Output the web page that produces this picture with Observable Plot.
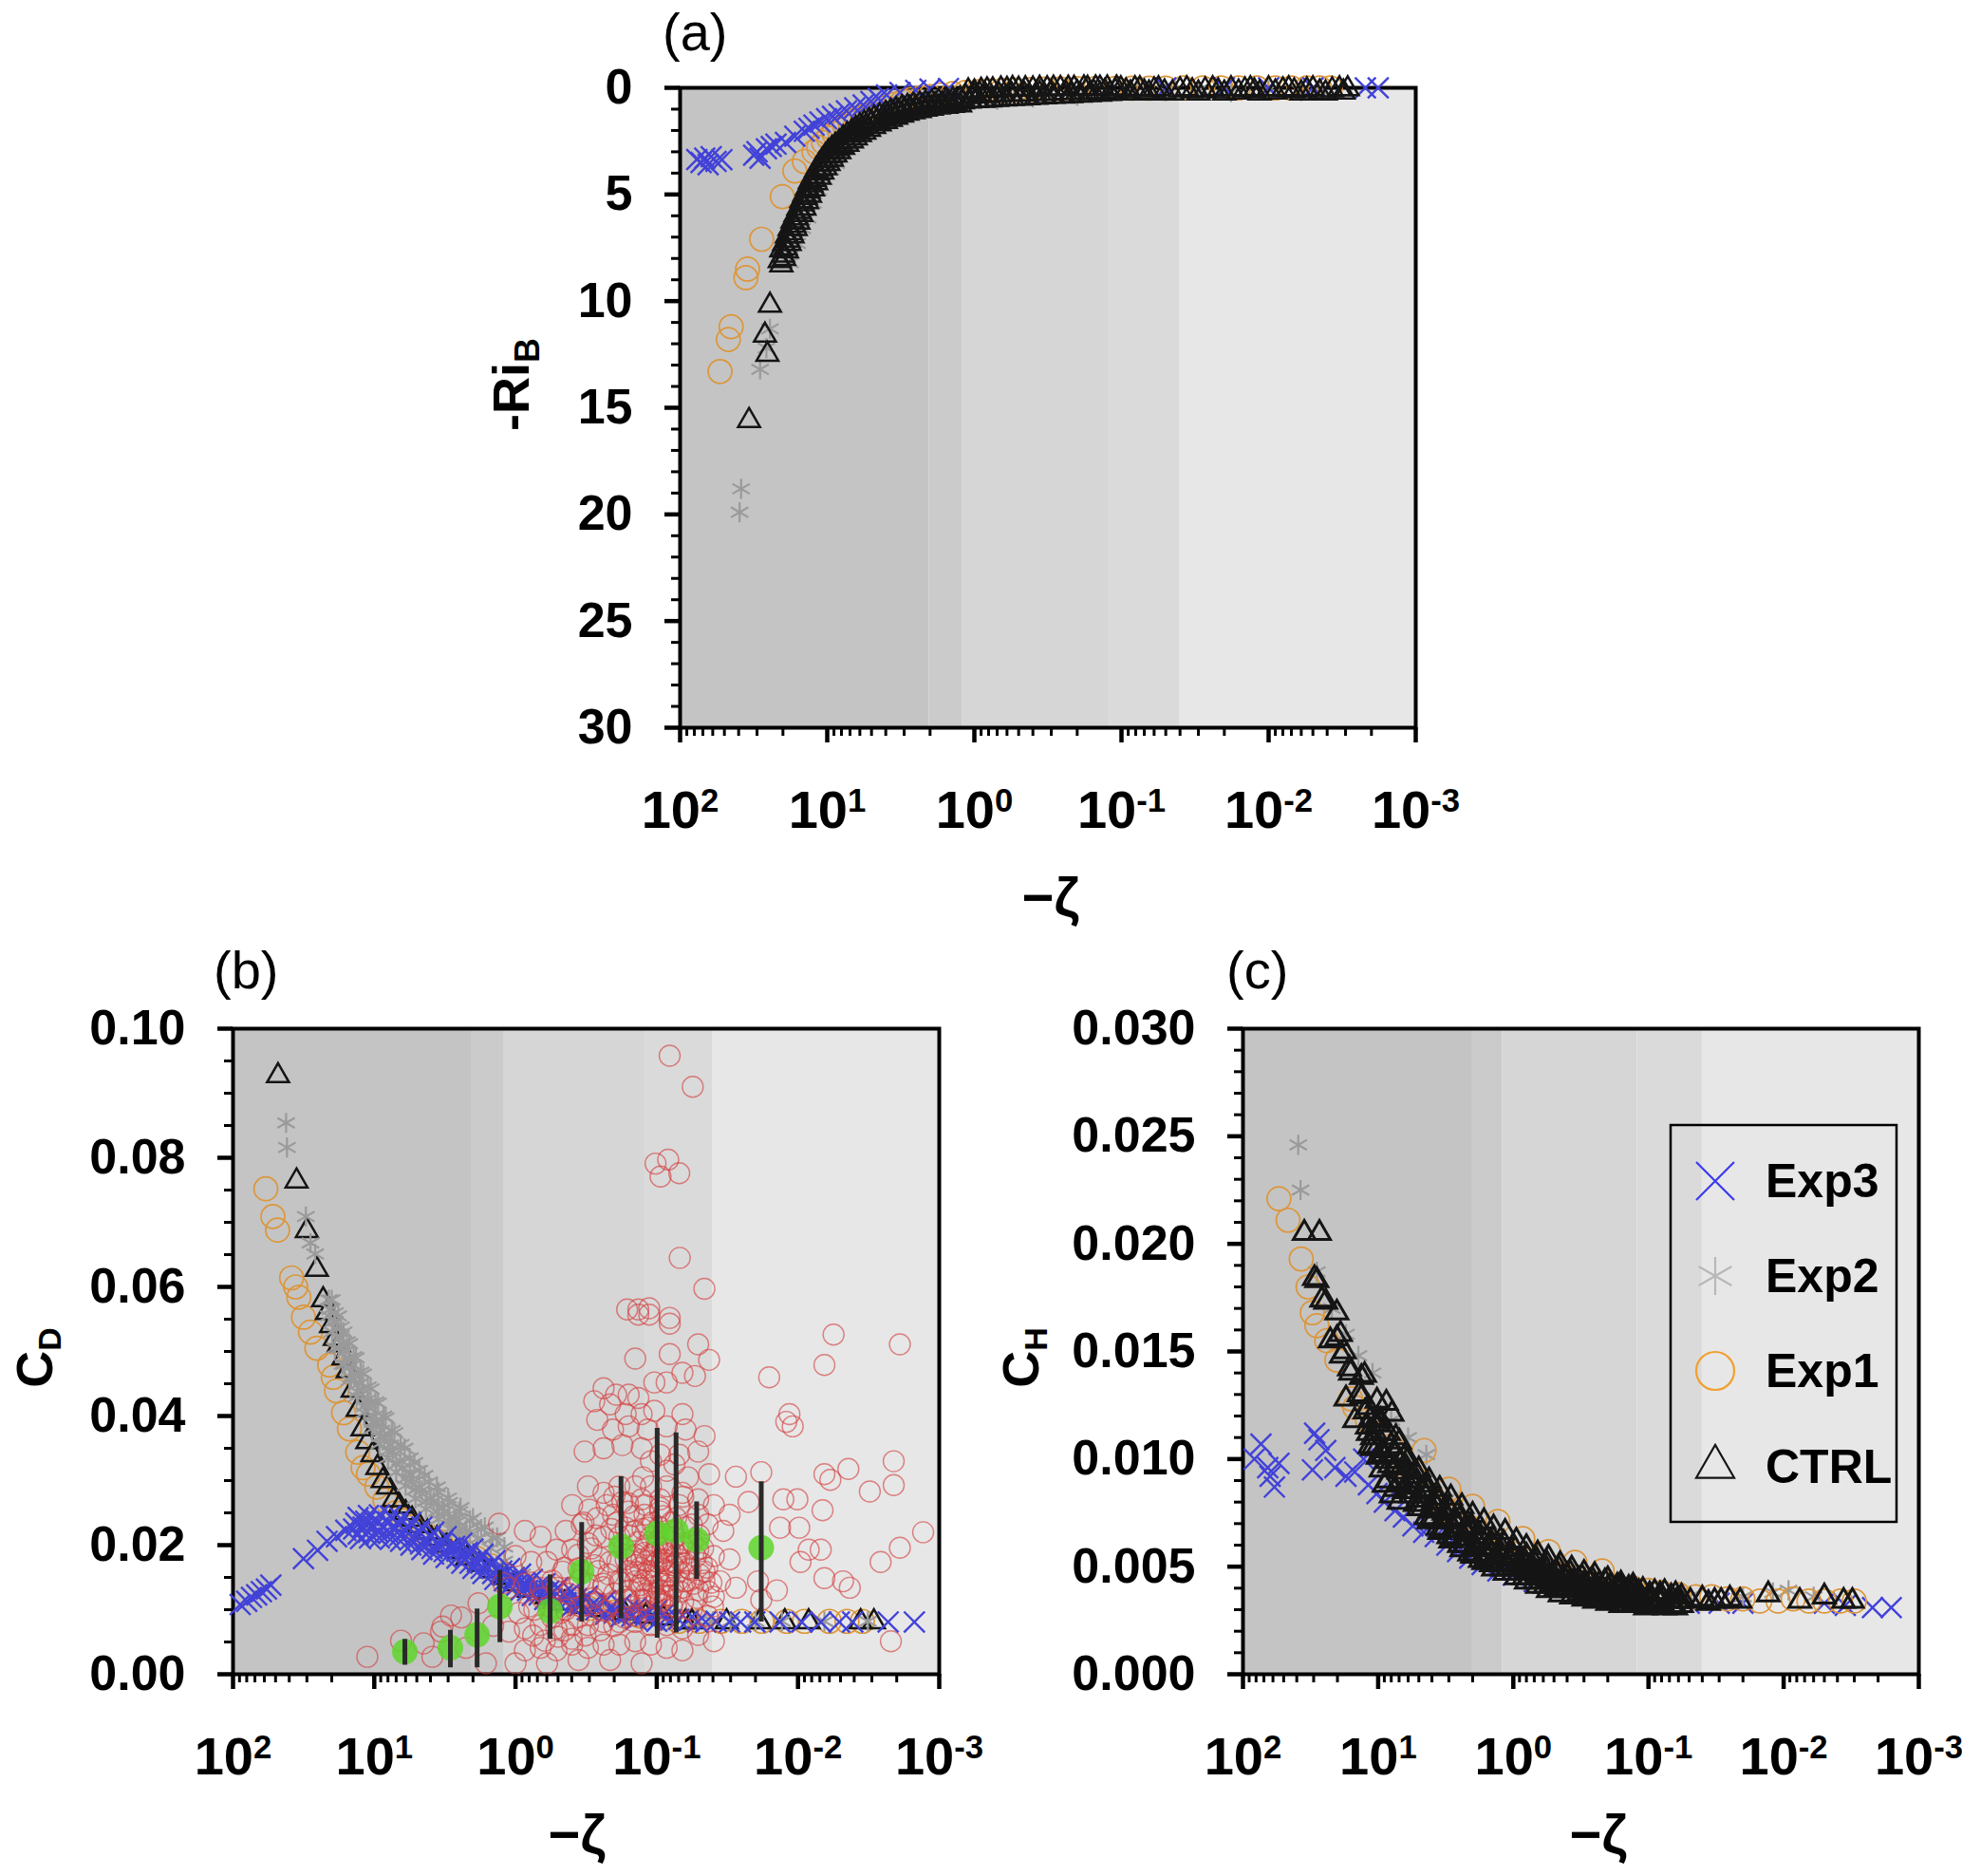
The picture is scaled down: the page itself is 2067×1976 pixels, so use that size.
<!DOCTYPE html>
<html>
<head>
<meta charset="utf-8">
<script src="https://cdn.jsdelivr.net/npm/d3@7"></script>
<script src="https://cdn.jsdelivr.net/npm/@observablehq/plot@0.6"></script>
<style>
  html, body { margin: 0; padding: 0; background: #fff; }
  #page { position: relative; width: 2067px; height: 1976px; overflow: hidden; background: #fff; }
  #page > svg { position: absolute; overflow: visible; }
</style>
</head>
<body>
<div id="page"></div>
<script>
// shaded stability regimes (edges in -zeta)
const bandFrom = [100, 2.03, 1.2, 0.121, 0.040];
const bandTo   = [2.03, 1.2, 0.121, 0.040, 0.001];
const bandFill = ["#c4c4c4", "#cbcbcb", "#d6d6d6", "#dadada", "#e7e7e7"];

const xMajor = [100, 10, 1, 0.1, 0.01, 0.001];
const xMinor = [90, 80, 70, 60, 50, 40, 30, 20, 9, 8, 7, 6, 5, 4, 3, 2,
                0.9, 0.8, 0.7, 0.6, 0.5, 0.4, 0.3, 0.2, 0.09, 0.08, 0.07, 0.06, 0.05, 0.04, 0.03, 0.02,
                0.009, 0.008, 0.007, 0.006, 0.005, 0.004, 0.003, 0.002];

const legendNames = ["Exp3", "Exp2", "Exp1", "CTRL"];

// ---- panel (a): [-zeta, -Ri_B]
const exp3A = [
  [77,3.36],[72,3.5],[68,3.3],[64.5,3.6],[61.5,3.23],[57,3.45],[52,3.37],
  [31.6,3.16],[30,3.0],[28.6,3.3],[25.9,2.86],[24,2.75],[22.3,2.64],[19.2,2.56],[16.6,2.27],[14.3,2.04],
  [13.3,1.9],[12.3,1.75],[11.2,1.6],[10.1,1.45],[9.2,1.34],[8.3,1.23],[7.4,1.08],[6.5,0.94],[5.7,0.8],
  [5.05,0.64],[4.5,0.5],[3.95,0.34],[3.2,0.22],[2.5,0.12],[2,0.06],[1.5,0.03],
  [0.05,0],[0.02,0],[0.01,0],[0.005,0],[0.0022,0],[0.0018,0]
];
const exp2A = [
  [39.4,19.9],[38.5,18.8],[28.6,13.2],[25.9,12.2],[24.5,11.3],
  [17.9,8.2],[16,7.3],[14.8,6.6],[13.6,6.1],[12.5,5.4],[11.5,4.8],[10.5,4.3],[9.5,3.85],[8.7,3.55],
  [7.8,3.1],[7,2.75],[6.2,2.4],[5.4,2.05],[4.6,1.75],[3.8,1.45],[3,1.15],[2.3,0.95],[1.6,0.77],
  [1.1,0.65],[0.7,0.55],[0.4,0.45],[0.2,0.36],
  [0.09,0.1],[0.05,0.15],[0.03,0.1],[0.018,0.2],[0.01,0.1],[0.006,0.15],[0.0045,0.1]
];
const exp1A = [
  [53.5,13.3],[47,11.8],[45,11.2],[35.7,8.9],[34.8,8.5],[27.9,7.1],[20.2,5.1],[16.6,3.9],[14.3,3.45],
  [12.3,3.0],[11.4,2.8],[10.6,2.56],[9.8,2.35],[9,2.15],[8.3,1.97],[7.6,1.8],[7,1.62],[6.4,1.48],
  [5.8,1.35],[5.4,1.3],[5,1.23],[4.5,1.08],[4,0.92],[3.5,0.78],[3.07,0.64],[2.7,0.55],[2.3,0.46],
  [2,0.4],[1.7,0.33],[1.4,0.27],[1.15,0.22],[0.95,0.18],[0.8,0.15],[0.65,0.12],[0.52,0.1],[0.42,0.08],
  [0.33,0.06],[0.26,0.05],[0.2,0.04],[0.15,0.03],[0.11,0.03],[0.085,0.02],[0.065,0.02],[0.05,0.02],
  [0.038,0.01],[0.028,0.01],[0.021,0.01],[0.016,0.01],[0.012,0.01],[0.009,0.01],[0.007,0.01],
  [0.0055,0.01],[0.0045,0.01],[0.0038,0.01]
];
const ctrlA = [
  [34,15.6],[25.5,12.5],[26.5,11.6],[24.5,10.2],
  [21,8.1],[20,7.85],[19.2,7.5],[18.4,7.15],[17.6,6.8],[16.8,6.45],[16.1,6.1],[15.4,5.8],[14.7,5.45],
  [14,5.15],[13.4,4.85],[12.8,4.55],[12.2,4.3],[11.6,4.0],[11.1,3.8],[10.6,3.55],[10.1,3.4],[9.6,3.2],
  [9.1,3.0],[8.6,2.85],[8.1,2.7],[7.6,2.5],[7.1,2.35],[6.6,2.2],[6.2,2.05],[5.8,1.9],[5.4,1.8],[5,1.65],
  [4.6,1.55],[4.2,1.42],[3.9,1.3],[3.6,1.22],[3.3,1.12],[3,1.04],[2.75,0.98],[2.5,0.93],[2.25,0.88],
  [2.05,0.84],[1.85,0.8],[1.65,0.76],[1.5,0.72],[1.35,0.69],[1.2,0.66],[1.08,0.63],[0.97,0.61],
  [0.87,0.59],[0.78,0.57],[0.7,0.55],[0.62,0.53],[0.55,0.51],[0.49,0.49],[0.43,0.47],[0.38,0.45],
  [0.33,0.43],[0.29,0.41],[0.25,0.39],[0.22,0.37],[0.19,0.35],[0.165,0.33],[0.14,0.3],[0.12,0.27],
  [20.5,7.6],[19.6,7.3],[18.8,6.95],[18,6.6],[17.2,6.25],[16.4,5.95],[15.7,5.65],[15,5.3],[14.3,5.0],
  [13.7,4.7],[13.1,4.4],[12.5,4.15],[11.9,3.85],[11.3,3.6],[10.8,3.4],[10.3,3.2],[9.8,3.0],[9.3,2.85],
  [8.8,2.7],[8.3,2.55],[7.8,2.35],[7.3,2.2],[6.8,2.05],[6.4,1.9],[6,1.78],[5.6,1.66],[5.2,1.55],
  [4.8,1.42],[4.4,1.32],[4,1.2],[3.7,1.1],[3.4,1.02],[3.1,0.94],[2.85,0.88],[2.6,0.82],[2.35,0.77],
  [2.15,0.72],[1.95,0.68],[1.75,0.64],[1.55,0.6],[1.4,0.56],[1.25,0.53],
  [20.5,8.3],[19.6,8.0],[18.8,7.65],[18,7.3],[17.2,6.95],[16.4,6.6],[15.7,6.3],[15,5.95],[14.3,5.65],
  [13.7,5.35],[13.1,5.05],[12.5,4.75],[11.9,4.45],[11.3,4.2],[10.8,3.95],[10.3,3.75],[9.8,3.55],
  [9.3,3.35],[8.8,3.15],[8.3,3.0],[7.8,2.8],[7.3,2.65],[6.8,2.5],[6.4,2.35],[6,2.2],[5.6,2.08],
  [5.2,1.95],[4.8,1.82],[4.4,1.7],[4,1.58],[3.7,1.48],[3.4,1.38],[3.1,1.28],[2.85,1.2],[2.6,1.13],
  [2.35,1.07],[2.15,1.01],[1.95,0.96],[1.75,0.91],[1.55,0.87],[1.4,0.83],[1.25,0.8],
  [1.15,0.4],[1.0,0.38],[0.92,0.3],[0.84,0.36],[0.68,0.33],[0.56,0.31],[0.46,0.29],[0.36,0.27],
  [0.3,0.25],[0.24,0.23],[0.2,0.22],[0.155,0.2],[0.13,0.18],[0.11,0.15],
  [1.1,0.15],[1.0,0.2],[0.9,0.12],[0.82,0.1],[0.75,0.1],[0.66,0.06],[0.6,0.08],[0.55,0.04],[0.5,0.07],
  [0.45,0.05],[0.4,0.06],[0.36,0.03],[0.32,0.05],[0.29,0.02],[0.26,0.04],[0.23,0.02],[0.21,0.03],
  [0.18,0.01],[0.17,0.03],[0.15,0.01],[0.14,0.02],[0.125,0.01],[0.108,0.01],
  [0.101,0.05],[0.093,0.15],[0.087,0.25],[0.081,0.05],[0.075,0.05],[0.07,0.2],[0.065,0.25],[0.06,0.1],
  [0.056,0.05],[0.051,0.2],[0.045,0.25],[0.04,0.1],[0.036,0.05],[0.033,0.15],[0.03,0.25],[0.027,0.1],
  [0.024,0.05],[0.022,0.15],[0.02,0.25],[0.018,0.05],[0.016,0.2],[0.0145,0.1],[0.0133,0.05],
  [0.0125,0.15],[0.0115,0.25],[0.01,0.05],[0.009,0.2],[0.008,0.1],[0.0073,0.05],[0.0067,0.15],
  [0.006,0.25],[0.0055,0.1],[0.005,0.05],[0.0045,0.2],[0.0041,0.25],[0.0037,0.1],[0.0033,0.05],
  [0.0031,0.2],[0.0029,0.05]
];

// ---- panel (b): [-zeta, C_D]
const ctrlB = [
  [48,0.0927],[35.5,0.0764],[30,0.0687],[25.5,0.0627],
  [23,0.058],[21.6,0.056],[20.2,0.054],[19,0.052],[17.8,0.051],[16.5,0.049],[15.4,0.047],[14.2,0.044],
  [13.1,0.041],[12.1,0.038],[11.2,0.036],[10.3,0.034],[9.5,0.032],[8.7,0.030],[8,0.029],[7.3,0.027],
  [6.6,0.026],[6,0.025],[5.4,0.024],[4.8,0.023],[4.2,0.022],[3.6,0.021],[3.1,0.020],[2.6,0.019],
  [2.2,0.018],[1.8,0.017],[1.5,0.016],[1.2,0.015],[1,0.014],[0.8,0.013],[0.6,0.012],[0.45,0.011],
  [0.33,0.0105],[0.24,0.01],[0.17,0.0095],[0.12,0.009],[0.09,0.0087],
  [0.0625,0.0081],[0.0564,0.0081],[0.032,0.0081],[0.0187,0.0081],[0.0124,0.0081],[0.0084,0.0081],
  [0.0036,0.0081],[0.0029,0.0081]
];
const exp1B = [
  [58.6,0.0752],[52.2,0.0709],[48.4,0.0688],[38.5,0.0614],[36,0.06],[34.2,0.0584],[31.7,0.0553],
  [28.3,0.053],[25.5,0.0505],[20.7,0.0479],[19.5,0.046],[18.5,0.0439],[16.5,0.0405],[15,0.038],
  [13.1,0.0344],[12,0.032],[11,0.031],[9.6,0.029],[8.4,0.027],[7.1,0.025],[6.2,0.0238],[5.4,0.0228],
  [4.7,0.022],[4,0.0212],[3.4,0.0205],[2.8,0.0198],[2.3,0.019],[1.9,0.018],[1.5,0.0168],[1.2,0.0155],
  [0.9,0.014],[0.65,0.0125],[0.45,0.0112],[0.3,0.0102],[0.2,0.0096],[0.13,0.009],[0.09,0.0087],
  [0.07,0.0082],[0.05,0.0082],[0.035,0.0082],[0.025,0.0082],[0.018,0.0082],[0.012,0.0082],
  [0.009,0.0082],[0.006,0.0082],[0.0045,0.0082],[0.0035,0.0082]
];
const exp2B = [
  [42.1,0.0854],[41.5,0.0816],[30.5,0.0709],[28.3,0.0668],[26.2,0.0651],
  [21,0.0555],[19.2,0.0547],[17.5,0.052],[16,0.050],[14.2,0.0479],[12.8,0.045],[11.2,0.0425],[10,0.040],
  [8.9,0.0378],[7.7,0.0355],[6.56,0.0331],[5.6,0.031],[4.8,0.029],[4.0,0.0272],[3.29,0.0257],[2.7,0.024],
  [2.24,0.0223],[1.85,0.021],[1.5,0.0195],[1.2,0.0175],[0.9,0.0155],[0.6,0.0135],[0.4,0.012],
  [0.25,0.011],[0.15,0.01],[0.1,0.0092],
  [20,0.058],[18,0.0555],[16.5,0.053],[15,0.0512],[13.5,0.049],[12,0.0465],[10.6,0.0442],[9.4,0.042],
  [8.3,0.0397],[7.2,0.0374],[6.1,0.035],[5.2,0.0328],[4.4,0.0308],[3.6,0.029],[3.0,0.0273],[2.45,0.0258],
  [2.0,0.0242],[1.65,0.0228],[1.35,0.0212],
  [20.5,0.0565],[18.5,0.0535],[16.8,0.0512],[15.2,0.049],[13.6,0.0465],[12.2,0.0442],[11,0.042],
  [9.7,0.039],[8.5,0.0368],[7.4,0.0345],[6.3,0.032],[5.4,0.0302],[4.6,0.0285],[3.8,0.0268],[3.2,0.0252],
  [2.6,0.0236],[2.1,0.022],
  [19.8,0.053],[17.8,0.0505],[16.2,0.048],[14.6,0.046],[13,0.0437],[11.6,0.0415],[10.3,0.039],
  [9.1,0.0368],[8,0.0346],[7,0.0325],[6,0.0303],[5.1,0.0286],[4.3,0.0268],[3.6,0.0252],[3.0,0.0238],
  [2.5,0.0222],
  [19,0.0505],[16.8,0.048],[15,0.0455],[13.3,0.043],[11.8,0.0405],[10.4,0.038],[9.2,0.0357],[8,0.0335],
  [7,0.0313],[6,0.0292],[5.1,0.0272],[4.3,0.0256],[3.5,0.024],[2.9,0.0225],[2.4,0.021],
  [21,0.058],[19,0.056],[17.2,0.0538],[15.6,0.0515],[14,0.0492],[12.5,0.0468],[11.1,0.0445],[9.8,0.0422],
  [8.6,0.04],[7.5,0.0378],[6.5,0.0356],[5.6,0.0335],[4.8,0.0316],[4.1,0.0298],[3.5,0.0282],[2.95,0.0266],
  [2.5,0.0252],[2.1,0.0238],[1.75,0.0225],[1.45,0.0211],[1.2,0.0197],
  [0.051,0.0082],[0.04,0.0082],[0.03,0.0082],[0.02,0.0082],[0.013,0.0082],[0.0065,0.0082],[0.0032,0.0082]
];
const exp3B = [
  [89,0.0108],[80,0.0113],[74,0.0119],[68,0.0123],[63,0.0128],[58,0.0132],[54,0.0138],
  [31.7,0.0179],[25.2,0.0192],[21.6,0.0206],[18.5,0.0213],[15.9,0.0223],
  [14,0.0225],[12,0.0228],[10,0.0229],[8.5,0.0228],[7,0.0226],[6,0.0222],[5,0.0215],[4.2,0.0208],
  [3.4,0.0201],[2.9,0.0196],[2.6,0.0191],[2.2,0.0183],[1.85,0.0174],[1.55,0.0165],[1.22,0.0153],
  [1.0,0.0145],[0.84,0.0137],[0.7,0.013],[0.56,0.0124],[0.44,0.012],[0.35,0.0112],[0.27,0.0106],
  [0.2,0.0100],[0.16,0.0095],[0.12,0.0091],[0.085,0.0088],[0.07,0.0085],
  [13,0.0243],[11,0.0246],[9.2,0.0247],[7.7,0.0245],[6.5,0.0241],[5.5,0.0235],[4.6,0.0228],[3.8,0.022],
  [3.1,0.0213],[2.4,0.0203],[2.0,0.0194],[1.7,0.0186],[1.4,0.0176],[1.1,0.0164],[0.92,0.0155],
  [0.76,0.0147],[0.62,0.014],[0.5,0.0134],[0.4,0.0128],[0.31,0.0121],[0.23,0.0114],[0.18,0.0108],
  [0.14,0.0103],[0.1,0.0099],
  [12.5,0.021],[10.8,0.0211],[9.2,0.0211],[7.7,0.0209],[6.5,0.0206],[5.5,0.02],[4.6,0.0193],[3.8,0.0186],
  [3.1,0.0181],[2.4,0.0172],[2.0,0.0164],[1.7,0.0156],[1.4,0.0147],[1.1,0.0137],[0.92,0.013],
  [0.76,0.0122],[0.62,0.0116],[0.5,0.0111],[0.4,0.0105],[0.31,0.01],[0.23,0.0093],[0.18,0.0089],
  [0.14,0.0085],[0.1,0.0082],
  [13.5,0.0234],[11.5,0.0237],[9.6,0.0238],[8,0.0236],[6.8,0.0233],[5.7,0.0227],[4.8,0.022],[4,0.0213],
  [3.3,0.0206],[2.7,0.0198],[2.2,0.0189],[1.8,0.018],[1.5,0.017],[1.25,0.016],[1.02,0.015],[0.86,0.0142],
  [0.7,0.0135],[0.58,0.0129],[0.46,0.0124],[0.37,0.0117],[0.28,0.011],[0.21,0.0105],[0.16,0.01],
  [0.12,0.0096],[0.09,0.0092],
  [13,0.0217],[11,0.022],[9.4,0.022],[7.9,0.0218],[6.6,0.0215],[5.6,0.0208],[4.7,0.0202],[3.9,0.0195],
  [3.2,0.019],[2.6,0.018],[2.1,0.0172],[1.75,0.0164],[1.45,0.0156],[1.2,0.0145],[0.98,0.0138],
  [0.82,0.013],[0.68,0.0123],[0.55,0.0117],[0.44,0.0111],[0.35,0.0106],[0.27,0.01],[0.2,0.0095],
  [0.15,0.009],[0.11,0.0087],[0.08,0.0084],
  [0.06,0.0083],[0.045,0.0081],[0.038,0.0082],
  [0.0514,0.0081],[0.0305,0.0081],[0.0255,0.0081],[0.0202,0.0081],[0.0134,0.0081],[0.0094,0.0081],
  [0.0069,0.0081],[0.0051,0.0081],[0.0041,0.0081],[0.0023,0.0081],[0.0015,0.0081]
];
// observations (red open circles)
const obsB = [
  [0.081,0.0958],[0.0556,0.091],[0.102,0.0791],[0.083,0.0797],[0.094,0.0771],[0.0693,0.0776],
  [0.0687,0.0645],[0.046,0.0597],[0.162,0.0565],[0.135,0.0565],[0.113,0.0567],[0.081,0.0552],
  [0.135,0.0557],[0.113,0.0557],[0.0809,0.0543],[0.142,0.0489],[0.0809,0.0496],[0.0509,0.0511],
  [0.0426,0.0487],[0.0658,0.0467],[0.0536,0.0462],[0.0851,0.0452],[0.104,0.0452],[0.238,0.0443],
  [0.194,0.0433],[0.158,0.0433],[0.135,0.0428],[0.277,0.0423],[0.214,0.0418],[0.166,0.0403],
  [0.128,0.0403],[0.104,0.0408],[0.0658,0.0403],[0.264,0.0394],[0.204,0.0379],[0.158,0.0384],
  [0.116,0.0379],[0.0851,0.0384],[0.0625,0.0379],[0.0459,0.0369],[0.324,0.0345],[0.238,0.035],
  [0.175,0.0355],[0.128,0.035],[0.0944,0.034],[0.0693,0.034],[0.0509,0.0345],[0.0426,0.031],
  [0.0275,0.0306],[0.0182,0.0313],[0.016,0.046],[0.0056,0.0526],[0.0019,0.0511],[0.0065,0.0479],
  [0.0115,0.0403],[0.0121,0.0391],[0.0109,0.0384],[0.0065,0.031],[0.0059,0.0301],[0.0044,0.0318],
  [0.0021,0.033],[0.0021,0.0293],[0.0031,0.0283],[0.0067,0.0254],[0.0101,0.0271],[0.0127,0.0271],
  [0.0098,0.0227],[0.0134,0.0227],[0.0224,0.0267],[0.0305,0.0247],[0.0084,0.0193],[0.0069,0.0193],
  [0.0096,0.0174],[0.0026,0.0174],[0.0019,0.0196],[0.0013,0.022],[0.0065,0.0149],[0.0048,0.0144],
  [0.0043,0.0134],[0.0141,0.013],[0.0192,0.0144],[0.0182,0.0115],[0.0022,0.0051],
  [0.397,0.0262],[0.307,0.0291],[0.238,0.0281],[0.184,0.0291],[0.142,0.0291],[0.11,0.0291],
  [0.0851,0.0291],[0.0658,0.0281],[0.0509,0.0271],[0.0394,0.0262],[0.441,0.0222],[0.34,0.0232],
  [0.264,0.0242],[0.204,0.0247],[0.158,0.0252],[0.122,0.0247],[0.0944,0.0252],[0.073,0.0242],
  [0.0565,0.0232],[0.0437,0.0232],[0.0338,0.0222],[0.858,0.0222],[0.664,0.0213],[0.513,0.0193],
  [0.397,0.0193],[0.307,0.0203],[0.238,0.0213],[0.184,0.0213],[0.142,0.0222],[0.11,0.0213],
  [0.0851,0.0208],[0.0658,0.0203],[0.0509,0.0193],[0.0394,0.0183],[0.0305,0.0178],[1.0,0.0183],
  [0.774,0.0174],[0.598,0.0174],[0.463,0.0159],[0.358,0.0164],[0.277,0.0169],[0.214,0.0174],
  [0.166,0.0178],[0.128,0.0178],[0.0993,0.0174],[0.0767,0.0169],[0.0594,0.0164],[0.0459,0.0159],
  [0.0356,0.0144],[0.0275,0.0134],[1.11,0.0134],[0.858,0.014],[0.664,0.0134],[0.513,0.0134],
  [0.397,0.0134],[0.307,0.014],[0.238,0.014],[0.184,0.0144],[0.142,0.0144],[0.11,0.0144],
  [0.0851,0.0144],[0.0658,0.0134],[0.0509,0.013],[0.0394,0.012],[0.95,0.0095],[0.736,0.01],
  [0.569,0.0105],[0.441,0.01],[0.34,0.0105],[0.264,0.011],[0.204,0.011],[0.158,0.0115],
  [0.122,0.0115],[0.0944,0.0115],[0.073,0.0105],[0.0565,0.01],[0.0437,0.009],[1.11,0.0066],
  [0.858,0.0071],[0.664,0.0076],[0.513,0.0071],[0.397,0.0076],[0.307,0.0076],[0.238,0.0081],
  [0.184,0.0081],[0.142,0.0081],[0.11,0.0076],[0.0851,0.0076],[0.0658,0.0071],[0.0509,0.0061],
  [0.0394,0.0051],[0.858,0.0037],[0.664,0.0041],[0.513,0.0037],[0.397,0.0046],[0.307,0.0041],
  [0.238,0.0046],[0.184,0.0046],[0.142,0.0051],[0.11,0.0046],[0.0851,0.0041],[0.0658,0.0037],
  [1.0,0.0017],[0.598,0.0017],[0.358,0.0022],[0.214,0.0022],[0.128,0.0017],
  [0.104,0.0188],[0.0896,0.0178],[0.0809,0.0159],[0.116,0.0154],[0.0944,0.014],[0.0767,0.0134],
  [0.104,0.0125],[0.0851,0.01],[0.128,0.0134],[0.0693,0.0178],[0.0993,0.0198],[0.0809,0.0193],
  [0.142,0.0169],[0.0625,0.0144],[0.122,0.0188],[0.0896,0.0217],[0.0767,0.0222],[0.116,0.0227],
  [0.166,0.0227],[0.175,0.0267],[0.226,0.0262],[0.128,0.0271],[0.0944,0.0271],[0.0693,0.0262],
  [0.0509,0.0247],
  [0.3,0.0255],[0.27,0.0215],[0.25,0.018],[0.22,0.0155],[0.2,0.0125],[0.19,0.0235],[0.17,0.0195],
  [0.16,0.016],[0.155,0.013],[0.15,0.0105],[0.145,0.0245],[0.135,0.0205],[0.13,0.0165],[0.125,0.0145],
  [0.12,0.0125],[0.115,0.0098],[0.108,0.0235],[0.105,0.0168],[0.1,0.0152],[0.097,0.013],[0.094,0.0112],
  [0.09,0.0245],[0.088,0.0188],[0.086,0.016],[0.083,0.0138],[0.08,0.0122],[0.078,0.0105],[0.075,0.0212],
  [0.072,0.0185],[0.07,0.0158],[0.068,0.0128],[0.065,0.0112],[0.062,0.0228],[0.06,0.0188],[0.058,0.0162],
  [0.055,0.014],[0.052,0.0118],[0.05,0.0215],[0.048,0.0172],[0.046,0.0145],[0.043,0.0128],[0.04,0.0105],
  [0.11,0.0185],[0.12,0.02],[0.14,0.0185],[0.1,0.0205],[0.092,0.0175],[0.082,0.0152],[0.13,0.0115],
  [0.14,0.009],[0.17,0.0088],[0.2,0.0075],[0.25,0.0068],[0.32,0.006],[0.4,0.0055],[0.5,0.0058],
  [0.62,0.0052],[0.75,0.006],[0.35,0.0145],[0.42,0.0125],[0.48,0.0095],[0.55,0.0088],[0.28,0.0118],
  [0.23,0.0098],[0.065,0.0275],[0.06,0.0305],[0.075,0.0325],[0.11,0.033],[0.085,0.0315],[0.125,0.0305],
  [0.33,0.0235],[0.29,0.0195],[0.26,0.016],[0.24,0.0135],[0.21,0.0225],[0.19,0.0175],[0.18,0.0142],
  [0.165,0.012],[0.155,0.0215],[0.148,0.0182],[0.14,0.0158],[0.132,0.0138],[0.126,0.0225],[0.118,0.0175],
  [0.112,0.016],[0.106,0.0135],[0.1,0.0118],[0.096,0.0228],[0.091,0.0195],[0.087,0.0172],[0.084,0.0122],
  [0.079,0.0235],[0.076,0.0198],[0.073,0.0172],[0.071,0.0145],[0.067,0.0198],[0.063,0.0172],
  [0.059,0.0145],[0.056,0.0205],[0.053,0.0182],[0.05,0.0155],[0.047,0.0195],[0.044,0.0165],
  [0.041,0.0142],[0.12,0.0262],[0.095,0.0258],[0.16,0.0265],[0.2,0.0275],[0.36,0.0185],[0.45,0.0165],
  [0.55,0.0145],[0.65,0.0118],[0.8,0.0105],[0.29,0.0092],[0.36,0.0088],[0.45,0.0068],
  [11.2,0.0027],[6.46,0.0052],[4.47,0.0048],[3.88,0.0027],[3.37,0.0066],[3.29,0.0074],[2.86,0.0091],
  [2.42,0.0088],[2.24,0.0041],[1.62,0.0017],[1.44,0.0075],[1.83,0.011],[1.22,0.0141],[1.31,0.0233]
];
// bin means (green) with spread bars
const binZeta = [6.07, 2.89, 1.87, 1.29, 0.569, 0.34, 0.179, 0.0993, 0.073, 0.0522, 0.0182];
const binMean = [0.0035, 0.0041, 0.0061, 0.0105, 0.0098, 0.0159, 0.0198, 0.0218, 0.0222, 0.0208, 0.0196];
const binLow  = [0.0014, 0.0010, 0.0010, 0.0049, 0.0054, 0.0081, 0.0086, 0.0056, 0.0064, 0.0147, 0.0081];
const binHigh = [0.0054, 0.0068, 0.0101, 0.0161, 0.0154, 0.0235, 0.0306, 0.0381, 0.0374, 0.0267, 0.0298];

// ---- panel (c): [-zeta, C_H]
const exp3C = [
  [73.6,0.0107],[82.4,0.0100],[65.6,0.0096],[54.2,0.0098],[58.5,0.0087],[63,0.0092],
  [29.5,0.0112],[27.4,0.0109],[30.6,0.0095],[24.4,0.0104],[20.9,0.0096],[17.3,0.0092],[14.9,0.0094],
  [12.8,0.0100],[11.8,0.0088],[10.2,0.0084],[9,0.008],[7.5,0.0076],[6.5,0.0073],[5.53,0.0069],
  [4.6,0.0066],[3.78,0.0064],[3.1,0.006],[2.58,0.0057],[2.1,0.0054],[1.7,0.0051],[1.3,0.0048],
  [1,0.0046],[0.7,0.0043],[0.5,0.0041],[0.3,0.0038],[0.2,0.0037],[0.12,0.0035],[0.08,0.0034],
  [0.05,0.0033],[0.03,0.0033],[0.02,0.0033],[0.005,0.0033],[0.0035,0.0032],[0.0022,0.0031],[0.0016,0.0031]
];
const exp2C = [
  [39,0.0246],[37.5,0.0225],[28.4,0.0187],[22,0.017],[17.3,0.0158],[14,0.0148],[11,0.014],[8,0.0118],
  [6,0.011],[4.4,0.0102],[3,0.0082],[1.5,0.0063],[0.8,0.0052],[0.4,0.0045],[0.2,0.004],[0.1,0.0037],
  [0.05,0.0036],[0.02,0.0036],[0.012,0.0038],[0.0092,0.0039],[0.006,0.0036]
];
const exp1C = [
  [54.2,0.0221],[46.4,0.0211],[37.1,0.0193],[33,0.018],[30.7,0.0168],[28.4,0.0162],[24,0.0155],
  [20.2,0.0146],[16,0.0128],[14.9,0.0124],[12,0.0118],[10,0.0112],[8,0.0106],[4.57,0.0104],
  [6.5,0.0098],[5.5,0.0092],[4,0.0083],[3.3,0.0078],[2.7,0.0073],[2.2,0.0069],[1.8,0.0065],[1.5,0.0062],
  [1.2,0.0058],[1,0.0056],[0.8,0.0053],[0.65,0.005],[0.52,0.0048],[0.42,0.0046],[0.34,0.0045],
  [0.27,0.0043],[0.21,0.0042],[0.17,0.0041],[0.13,0.004],[0.1,0.0039],[0.08,0.0038],[0.06,0.0037],
  [0.045,0.0036],[0.034,0.0036],[0.026,0.0035],[0.02,0.0035],[0.015,0.0034],[0.011,0.0034],
  [0.0085,0.0035],[0.0065,0.0034],[0.005,0.0034],[0.0038,0.0034],[0.003,0.0034],
  [3.0,0.0086],[2.0,0.0078],[1.3,0.0071],[0.85,0.0063],[0.55,0.0057],[0.35,0.0052],[0.22,0.0048]
];
const ctrlC = [
  [35.2,0.0205],[27.2,0.0205],[29.6,0.0184],[28.4,0.0183],[26.1,0.0174],[24.4,0.0173],[20.2,0.0168],
  [20.2,0.0156],[19,0.0158],[18.7,0.0148],[17.8,0.015],[16.3,0.0142],[13.3,0.0138],[12.6,0.0139],
  [13.2,0.0129],[10.2,0.0127],[9.6,0.0118],[8.7,0.0126],[7.9,0.0121],[7.4,0.011],[6.95,0.0108],
  [11.5,0.0106],[10.5,0.0112],[9.3,0.0102],[8.2,0.0097],
  [22.6,0.0155],[16,0.014],[13.8,0.013],[11.8,0.0124],[10.2,0.0116],[8.4,0.0112],[9.4,0.0104],
  [7.5,0.0102],[11.8,0.0112],[14.9,0.0118],[17.3,0.0128],
  [12,0.0115],[11,0.011],[10,0.0106],[9,0.0102],[8.5,0.0099],[7.6,0.0096],[10,0.0118],[9,0.0112],
  [8,0.0106],[7.5,0.0102],[12.5,0.0122],[11.3,0.0119],
  [9.5,0.0095],[8.5,0.009],[7.5,0.0086],[9,0.0088],[8,0.0083],[7,0.008],[10,0.0101],[11,0.0105],
  [7,0.0094],[5.8,0.0087],[4.8,0.0081],[4.0,0.0076],[3.3,0.0071],[2.75,0.0067],[2.3,0.0063],[1.9,0.0059],
  [1.58,0.0056],[1.32,0.0054],[1.1,0.0051],[0.91,0.0049],[0.76,0.0047],[0.63,0.0045],[0.52,0.0044],
  [0.44,0.0042],[0.36,0.0041],[0.3,0.004],[0.25,0.0039],[0.21,0.0038],[0.174,0.0037],[0.145,0.0036],
  [0.12,0.0036],[0.1,0.0035],[0.083,0.0035],[0.069,0.0034],[0.058,0.0034],
  [6.4,0.0101],[5.3,0.0094],[4.4,0.0088],[3.6,0.0082],[3.0,0.0077],[2.5,0.0072],[2.1,0.0068],
  [1.75,0.0064],[1.45,0.0061],[1.2,0.0058],[1.0,0.0055],[0.83,0.0053],[0.69,0.0051],[0.58,0.0049],
  [0.48,0.0047],[0.4,0.0046],[0.33,0.0044],[0.27,0.0043],[0.23,0.0042],[0.19,0.0041],[0.16,0.004],
  [0.13,0.0039],[0.11,0.0039],[0.09,0.0038],[0.076,0.0038],[0.063,0.0037],
  [6.4,0.0085],[5.3,0.0079],[4.4,0.0073],[3.6,0.0068],[3.0,0.0064],[2.5,0.006],[2.1,0.0056],
  [1.75,0.0053],[1.45,0.0051],[1.2,0.0049],[1.0,0.0047],[0.83,0.0045],[0.69,0.0043],[0.58,0.0041],
  [0.48,0.004],[0.4,0.0039],[0.33,0.0037],[0.27,0.0036],[0.23,0.0035],[0.19,0.0034],[0.16,0.0034],
  [0.13,0.0033],[0.11,0.0032],[0.09,0.0032],[0.076,0.0031],[0.063,0.0031],
  [6.9,0.0099],[5.7,0.0092],[4.7,0.0086],[3.9,0.008],[3.25,0.0075],[2.7,0.0071],[2.25,0.0066],
  [1.87,0.0062],[1.55,0.0059],[1.3,0.0057],[1.08,0.0054],[0.9,0.0052],[0.75,0.005],[0.62,0.0048],
  [0.52,0.0046],[0.43,0.0045],[0.36,0.0043],[0.3,0.0042],[0.25,0.0041],[0.2,0.004],[0.17,0.0039],
  [0.14,0.0038],[0.118,0.0038],[0.098,0.0037],[0.082,0.0037],[0.068,0.0036],[0.057,0.0036],
  [6.9,0.0089],[5.7,0.0083],[4.7,0.0077],[3.9,0.0072],[3.25,0.0067],[2.7,0.0063],[2.25,0.006],
  [1.87,0.0056],[1.55,0.0054],[1.3,0.0051],[1.08,0.0049],[0.9,0.0047],[0.75,0.0045],[0.62,0.0043],
  [0.52,0.0042],[0.43,0.004],[0.36,0.0039],[0.3,0.0038],[0.25,0.0037],[0.2,0.0036],[0.17,0.0035],
  [0.14,0.0035],[0.118,0.0034],[0.098,0.0033],[0.082,0.0033],[0.068,0.0032],[0.057,0.0032],
  [6,0.01],[5,0.0095],[4.2,0.009],[3.5,0.0086],[2.9,0.0082],[2.4,0.0078],[2.0,0.0074],[1.65,0.0071],
  [1.4,0.0068],[1.15,0.0066],[0.95,0.0062],[0.8,0.0059],[0.66,0.0056],[0.55,0.0054],[0.45,0.0051],
  [0.37,0.0049],[0.3,0.0047],[0.25,0.0046],[0.2,0.0044],[0.16,0.0042],[0.13,0.0041],
  [6.2,0.0096],[5.2,0.009],[4.3,0.0085],[3.55,0.008],[2.95,0.0076],[2.45,0.0073],[2.05,0.0069],
  [1.7,0.0066],[1.42,0.0063],[1.18,0.0061],[0.97,0.0058],[0.8,0.0055],[0.67,0.0053],[0.56,0.0051],
  [0.46,0.0049],[0.38,0.0047],[0.31,0.0045],[0.26,0.0044],[0.21,0.0043],[0.17,0.0041],[0.14,0.004],
  [5,0.0077],[4.2,0.0071],[3.5,0.0066],[2.9,0.0062],[2.4,0.0058],[2.0,0.0055],[1.65,0.0052],[1.4,0.0049],
  [1.15,0.0047],[0.95,0.0045],[0.8,0.0043],[0.66,0.0041],[0.55,0.0039],[0.45,0.0037],[0.37,0.0036],
  [0.3,0.0035],[0.25,0.0034],[0.2,0.0033],[0.16,0.0032],[0.13,0.0032],[0.105,0.0031],
  [5.5,0.0088],[4.5,0.0083],[3.7,0.0078],[3.1,0.0073],[2.6,0.0069],[2.15,0.0065],[1.8,0.0061],
  [1.5,0.0058],[1.25,0.0055],[1.04,0.0052],[0.87,0.005],[0.72,0.0048],[0.6,0.0046],[0.5,0.0045],
  [0.41,0.0043],[0.34,0.0042],[0.28,0.004],[0.23,0.0039],[0.19,0.0038],[0.155,0.0037],[0.125,0.0036],
  [0.094,0.0034],[0.078,0.0035],[0.062,0.0034],[0.049,0.0034],[0.04,0.0035],[0.036,0.0033],
  [0.0324,0.0034],[0.029,0.0034],[0.025,0.0035],[0.021,0.0034],[0.013,0.0037],[0.0076,0.0034],
  [0.005,0.0036],[0.0036,0.0034],[0.0031,0.0034]
];

// ---------- drawing ----------
const BLUE = "#4242d8", GRAY = "#9a9a9a", ORANGE = "#dc963a", BLACK = "#151515";
const FONT = "Liberation Sans, Arial, Helvetica, sans-serif";

const bands = bandFrom.map((f, i) => ({from: f, to: bandTo[i], fill: bandFill[i]}));
const bins = binZeta.map((z, i) => ({zeta: z, mean: binMean[i], low: binLow[i], high: binHigh[i]}));

const pts = (data, symbol, stroke, r, strokeWidth) =>
  Plot.dot(data, {x: d => d[0], y: d => d[1], symbol, r, stroke, strokeWidth, fill: "none"});
const exp3 = (d) => pts(d, d3.symbolTimes, BLUE, 10, 2.4);
const exp2 = (d) => pts(d, d3.symbolAsterisk, GRAY, 10, 2.2);
const exp1 = (d) => pts(d, d3.symbolCircle, ORANGE, 12.5, 1.7);
const ctrl = (d, w = 2.5) => pts(d, d3.symbolTriangle2, BLACK, 11, w);

function axes(yMajor, yMinor, yFormat) {
  return [
    Plot.axisY(yMinor, {anchor: "left", tickSize: 9, strokeWidth: 3, tickFormat: () => "", label: null}),
    Plot.axisY(yMajor, {anchor: "left", tickSize: 16, tickPadding: 34, strokeWidth: 4.5, tickFormat: yFormat,
      label: null, fontSize: 52, fontWeight: "bold", fontFamily: FONT, fill: "black"}),
    Plot.axisX(xMinor, {anchor: "bottom", tickSize: 9, strokeWidth: 3, tickFormat: () => "", label: null}),
    Plot.axisX(xMajor, {anchor: "bottom", tickSize: 16, tickPadding: 50, strokeWidth: 4.5,
      tickFormat: d => String(Math.round(Math.log10(d))), label: null, fontSize: 56, fontWeight: "bold",
      fontFamily: "Liberation Sans Narrow, " + FONT, fill: "black"})
  ];
}

function panel({left, top, width, height, margin, yDomain, reverse, layers, yMajor, yMinor, yFormat}) {
  const svg = Plot.plot({
    width, height,
    marginLeft: margin[0], marginTop: margin[1], marginRight: margin[2], marginBottom: margin[3],
    x: {type: "log", domain: [100, 0.001]},
    y: {domain: yDomain, reverse},
    color: {type: "identity"},
    style: {background: "transparent", overflow: "visible", fontFamily: FONT},
    marks: [
      Plot.rect(bands, {x1: "from", x2: "to", y1: yDomain[0], y2: yDomain[1], fill: "fill", inset: 0}),
      Plot.frame({stroke: "black", strokeWidth: 4}),
      ...layers,
      ...axes(yMajor, yMinor, yFormat)
    ]
  });
  svg.style.left = left + "px";
  svg.style.top = top + "px";
  // 10^n labels with a raised exponent
  d3.select(svg).selectAll('[aria-label="x-axis tick label"] text').each(function () {
    const exp = this.textContent;
    if (!exp) return;
    const t = d3.select(this).text(null);
    t.append("tspan").text("10");
    t.append("tspan").attr("dy", "-0.5em").attr("font-size", "0.62em").text(exp);
  });
  document.getElementById("page").appendChild(svg);
  return svg;
}

function addText(svg, x, y, str, {size = 54, weight = "bold", anchor = "middle", rotate = 0, sub = null, subSize = 36, subDy = 10} = {}) {
  const t = d3.select(svg).append("text")
    .attr("transform", `translate(${x},${y}) rotate(${rotate})`)
    .attr("text-anchor", anchor).attr("font-family", FONT)
    .attr("font-size", size).attr("font-weight", weight).attr("fill", "black");
  t.append("tspan").text(str);
  if (sub) t.append("tspan").attr("dy", subDy).attr("font-size", subSize).text(sub);
  return t;
}

// (a)
const svgA = panel({
  left: 480, top: 0, width: 1100, height: 1000, margin: [236, 92, 89, 234],
  yDomain: [0, 30], reverse: true,
  yMajor: [0, 5, 10, 15, 20, 25, 30], yMinor: d3.range(0, 31, 1), yFormat: d => String(d),
  layers: [exp2(exp2A), exp1(exp1A), exp3(exp3A), ctrl(ctrlA)]
});
addText(svgA, 218, 53, "(a)", {size: 56, weight: "normal", anchor: "start"});
addText(svgA, 627, 965, "\u2212\u03b6", {size: 58});
addText(svgA, 77, 405, "-Ri", {rotate: -90, sub: "B", subDy: 11});

// (b)
const svgB = panel({
  left: 0, top: 960, width: 1040, height: 1016, margin: [245, 123, 51, 213],
  yDomain: [0, 0.1], reverse: false,
  yMajor: [0, 0.02, 0.04, 0.06, 0.08, 0.1], yMinor: d3.range(0, 0.1001, 0.005), yFormat: d3.format(".2f"),
  layers: [
    exp1(exp1B), ctrl(ctrlB), exp2(exp2B), exp3(exp3B),
    Plot.dot(obsB, {x: d => d[0], y: d => d[1], r: 11, stroke: "#d43f3f", strokeOpacity: 0.62, strokeWidth: 1.4, fill: "none"}),
    Plot.dot(bins, {x: "zeta", y: "mean", r: 13.5, fill: "#5ed62c", fillOpacity: 0.85}),
    Plot.ruleX(bins, {x: "zeta", y1: "low", y2: "high", stroke: "#2a2a2a", strokeWidth: 5})
  ]
});
addText(svgB, 225, 81, "(b)", {size: 56, weight: "normal", anchor: "start"});
addText(svgB, 608, 992, "\u2212\u03b6", {size: 58});
addText(svgB, 55, 470, "C", {rotate: -90, sub: "D", subDy: 9, subSize: 34});

// (c)
const svgC = panel({
  left: 1040, top: 960, width: 1027, height: 1016, margin: [269, 123, 46, 213],
  yDomain: [0, 0.03], reverse: false,
  yMajor: [0, 0.005, 0.01, 0.015, 0.02, 0.025, 0.03], yMinor: d3.range(0, 0.03001, 0.001), yFormat: d3.format(".3f"),
  layers: [exp3(exp3C), exp2(exp2C), exp1(exp1C), ctrl(ctrlC, 3)]
});
addText(svgC, 252, 81, "(c)", {size: 56, weight: "normal", anchor: "start"});
addText(svgC, 644, 992, "\u2212\u03b6", {size: 58});
addText(svgC, 54, 470, "C", {rotate: -90, sub: "H", subDy: 9, subSize: 34});

// legend box inside (c)
const lg = d3.select(svgC).append("g");
lg.append("rect").attr("x", 720).attr("y", 225).attr("width", 238).attr("height", 418)
  .attr("fill", "none").attr("stroke", "black").attr("stroke-width", 2.5);
const legendSym = [d3.symbolTimes, d3.symbolAsterisk, d3.symbolCircle, d3.symbolTriangle2];
const legendSize = [1045, 1133, 1257, 1145];
const legendStroke = ["#3a3af2", "#b8b8b8", "#f0a030", BLACK];
const legendY = [284, 384, 484, 585];
legendNames.forEach((name, i) => {
  lg.append("path").attr("d", d3.symbol(legendSym[i], legendSize[i])())
    .attr("transform", `translate(767,${legendY[i]})`)
    .attr("fill", "none").attr("stroke", legendStroke[i]).attr("stroke-width", 2.2);
  lg.append("text").attr("x", 820).attr("y", legendY[i] + 17).attr("text-anchor", "start")
    .attr("font-family", FONT).attr("font-size", 50).attr("font-weight", "bold").attr("fill", "black").text(name);
});
</script>
</body>
</html>
